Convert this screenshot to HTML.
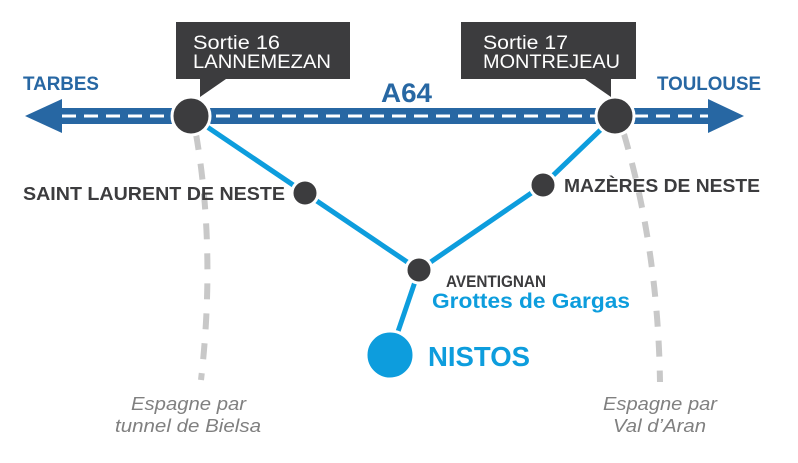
<!DOCTYPE html>
<html><head><meta charset="utf-8"><style>
html,body{margin:0;padding:0;background:#fff;}
svg{display:block;}
text{font-family:"Liberation Sans",sans-serif;}
</style></head><body>
<svg width="798" height="463" viewBox="0 0 798 463">
<path d="M196 134 Q216 250 201 380" fill="none" stroke="#c8c8c8" stroke-width="6" stroke-dasharray="16 14"/>
<path d="M624 134 Q658 250 660 382" fill="none" stroke="#c8c8c8" stroke-width="6" stroke-dasharray="16 14"/>
<rect x="60" y="108" width="650" height="16" fill="#2767a3"/>
<polygon points="25,116 62,99 62,133" fill="#2767a3"/>
<polygon points="744,116 708,99 708,133" fill="#2767a3"/>
<line x1="62" y1="116" x2="708" y2="116" stroke="#fff" stroke-width="3" stroke-dasharray="14 8"/>
<polyline points="191,116 305,193 419,270 543,185 615,116" fill="none" stroke="#ffffff" stroke-width="9"/>
<polyline points="191,116 305,193 419,270 543,185 615,116" fill="none" stroke="#0d9ddd" stroke-width="5"/>
<line x1="419" y1="270" x2="390" y2="355" stroke="#fff" stroke-width="9"/>
<line x1="419" y1="270" x2="390" y2="355" stroke="#0d9ddd" stroke-width="5"/>
<circle cx="191" cy="116" r="19" fill="#3c3c3e" stroke="#fff" stroke-width="3"/>
<circle cx="615" cy="116" r="19" fill="#3c3c3e" stroke="#fff" stroke-width="3"/>
<circle cx="305" cy="193" r="13" fill="#3c3c3e" stroke="#fff" stroke-width="3"/>
<circle cx="543" cy="185" r="13" fill="#3c3c3e" stroke="#fff" stroke-width="3"/>
<circle cx="419" cy="270" r="13" fill="#3c3c3e" stroke="#fff" stroke-width="3"/>
<circle cx="390" cy="355" r="24" fill="#0d9ddd" stroke="#fff" stroke-width="3"/>
<polygon points="176,22 350,22 350,79 226,79 200,97 200,79 176,79" fill="#3c3c3e"/>
<polygon points="461,22 636,22 636,79 611,79 611,97 585,79 461,79" fill="#3c3c3e"/>
<text x="193" y="49" fill="#fff" font-size="19" textLength="87" lengthAdjust="spacingAndGlyphs">Sortie 16</text>
<text x="193" y="68" fill="#fff" font-size="19" textLength="138" lengthAdjust="spacingAndGlyphs">LANNEMEZAN</text>
<text x="483" y="49" fill="#fff" font-size="19" textLength="85" lengthAdjust="spacingAndGlyphs">Sortie 17</text>
<text x="483" y="68" fill="#fff" font-size="19" textLength="137" lengthAdjust="spacingAndGlyphs">MONTREJEAU</text>
<text x="23" y="90" fill="#2767a3" font-size="19" font-weight="bold" textLength="76" lengthAdjust="spacingAndGlyphs">TARBES</text>
<text x="657" y="90" fill="#2767a3" font-size="19" font-weight="bold" textLength="104" lengthAdjust="spacingAndGlyphs">TOULOUSE</text>
<text x="381" y="102" fill="#2767a3" font-size="27" font-weight="bold" textLength="51" lengthAdjust="spacingAndGlyphs">A64</text>
<text x="23" y="200" fill="#3c3c3e" font-size="18" font-weight="bold" textLength="262" lengthAdjust="spacingAndGlyphs">SAINT LAURENT DE NESTE</text>
<text x="564" y="192" fill="#3c3c3e" font-size="18" font-weight="bold" textLength="196" lengthAdjust="spacingAndGlyphs">MAZÈRES DE NESTE</text>
<text x="446" y="287" fill="#3c3c3e" font-size="17" font-weight="bold" textLength="100" lengthAdjust="spacingAndGlyphs">AVENTIGNAN</text>
<text x="432" y="308" fill="#0d9ddd" font-size="21" font-weight="bold" textLength="198" lengthAdjust="spacingAndGlyphs">Grottes de Gargas</text>
<text x="428" y="366" fill="#0d9ddd" font-size="28" font-weight="bold" textLength="102" lengthAdjust="spacingAndGlyphs">NISTOS</text>
<text x="131" y="410" fill="#808080" font-size="18" font-style="italic" textLength="115" lengthAdjust="spacingAndGlyphs">Espagne par</text>
<text x="115" y="432" fill="#808080" font-size="18" font-style="italic" textLength="146" lengthAdjust="spacingAndGlyphs">tunnel de Bielsa</text>
<text x="603" y="410" fill="#808080" font-size="18" font-style="italic" textLength="114" lengthAdjust="spacingAndGlyphs">Espagne par</text>
<text x="613" y="432" fill="#808080" font-size="18" font-style="italic" textLength="93" lengthAdjust="spacingAndGlyphs">Val d’Aran</text>
</svg>
</body></html>
